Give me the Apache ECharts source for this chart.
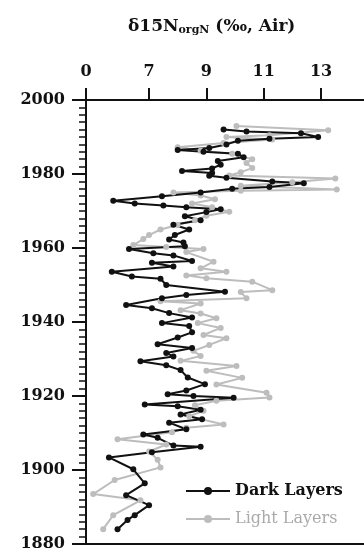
<!DOCTYPE html>
<html>
<head>
<meta charset="utf-8">
<script src="https://cdn.jsdelivr.net/npm/echarts@6/dist/echarts.min.js"></script>
<style>
  html, body { margin: 0; padding: 0; background: #fff; }
  #chart { width: 364px; height: 552px; }
</style>
</head>
<body>
<div id="chart"></div>
<script>
// [delta15N, year] pairs, top (recent) to bottom
const darkLayers = [
  [9.6, 1992], [10.4, 1991.5], [12.3, 1991], [12.9, 1990], [11.2, 1989.5], [10.1, 1989],
  [9.7, 1988], [9.1, 1987], [8.0, 1986.5], [8.9, 1986], [10.1, 1985.5], [10.3, 1984.5],
  [9.4, 1983.5], [9.5, 1982.5], [9.2, 1981.5], [8.15, 1980.8], [9.2, 1980.3], [9.1, 1979.5],
  [9.7, 1979], [11.3, 1978], [12.4, 1977.5], [11.2, 1976.5], [9.9, 1976], [8.8, 1975],
  [7.45, 1974], [5.75, 1972.8], [6.5, 1972], [7.5, 1971.5], [8.3, 1971], [9.5, 1970.5],
  [9.0, 1969.7], [8.25, 1968.6], [8.8, 1967.5], [7.85, 1966.3], [8.4, 1965], [7.9, 1963.5],
  [7.7, 1962.3], [8.2, 1961.5], [8.25, 1960.5], [6.3, 1959.7], [7.15, 1958.6], [7.85, 1958],
  [8.5, 1956.5], [7.1, 1956], [7.85, 1955], [5.7, 1953.6], [6.4, 1952.3], [7.4, 1951.7],
  [7.6, 1950], [9.65, 1948.2], [8.3, 1947.3], [7.45, 1946.4], [6.2, 1944.6], [7.1, 1943.7],
  [7.7, 1942.4], [8.5, 1941.2], [7.45, 1939.7], [8.4, 1938.9], [8.5, 1937.2], [8.0, 1935.8],
  [7.3, 1934], [8.5, 1933], [7.6, 1931.6], [7.85, 1930.7], [6.7, 1929.4], [7.6, 1928.3],
  [8.1, 1927], [8.35, 1925], [8.95, 1923.2], [8.3, 1921.5], [7.65, 1920.5], [8.55, 1920],
  [9.95, 1919.5], [6.85, 1917.7], [8.0, 1917.2], [8.8, 1916.3], [8.1, 1915], [8.85, 1913.7],
  [7.7, 1912.8], [8.3, 1911], [6.8, 1909.6], [7.3, 1908.7], [7.85, 1906.6], [8.8, 1906.3],
  [7.1, 1904.8], [5.6, 1903.4], [6.45, 1900.2], [6.85, 1896.4], [6.2, 1893.2], [7.0, 1890.5],
  [6.5, 1887.8], [6.25, 1886.5], [5.9, 1884]
];
const lightLayers = [
  [10.05, 1993], [13.25, 1991.8], [11.2, 1990.5], [9.7, 1990], [11.3, 1989.3], [9.6, 1988.4],
  [8.0, 1987.2], [8.8, 1986.3], [9.9, 1985.5], [10.6, 1984], [10.4, 1983], [10.6, 1981.6],
  [10.2, 1980.5], [9.8, 1979.6], [13.5, 1978.8], [12.0, 1977.8], [10.2, 1976.8], [13.55, 1975.8],
  [10.2, 1975.5], [7.85, 1975], [8.8, 1974.2], [9.3, 1973.2], [8.5, 1972], [9.2, 1971],
  [9.8, 1969.8], [9.0, 1968.7], [8.6, 1967.5], [8.0, 1966.2], [7.4, 1965], [7.0, 1963.5],
  [6.8, 1962.4], [6.45, 1960.8], [7.6, 1960.3], [8.9, 1959.7], [8.3, 1958.9], [9.25, 1956.3],
  [8.8, 1954.5], [9.7, 1953.6], [8.3, 1952.6], [9.0, 1951.8], [10.6, 1950.9], [11.3, 1948.6],
  [10.2, 1948.1], [10.4, 1946.4], [7.4, 1945.6], [8.8, 1945], [8.1, 1943.2], [8.8, 1942.3],
  [9.35, 1941], [8.7, 1939.7], [9.5, 1938.4], [8.9, 1936.5], [9.7, 1935.6], [9.1, 1933.8],
  [8.55, 1932.2], [8.8, 1930.8], [8.1, 1929.5], [10.05, 1928.1], [9.0, 1926.8], [10.25, 1924.9],
  [9.35, 1923.1], [11.1, 1920.9], [11.2, 1919.6], [9.35, 1918.7], [8.6, 1917.5], [8.9, 1916],
  [8.4, 1914.5], [9.6, 1912.3], [8.3, 1911.4], [7.8, 1910.2], [5.9, 1908.3], [7.6, 1906.9],
  [7.0, 1905], [7.3, 1902.8], [7.4, 1900.7], [5.8, 1897.3], [5.05, 1893.5], [6.7, 1891.8],
  [5.75, 1887.8], [5.4, 1884]
];
// broken axis: the first tick stands for 0
const xTicks = [4.8, 7, 9, 11, 13];
const xTickLabels = ['0', '7', '9', '11', '13'];

const font = 'DejaVu Serif';
const chart = echarts.init(document.getElementById('chart'));

chart.setOption({
  animation: false,
  title: {
    text: '{a|δ}{a|15}{a|N}{sub|orgN}{a| (‰, Air)}',
    left: 123,
    top: 12,
    textStyle: {
      rich: {
        a: { fontFamily: font, fontWeight: 'bold', fontSize: 17, color: '#111' },
        sub: { fontFamily: font, fontWeight: 'bold', fontSize: 11, color: '#111', padding: [8, 0, 0, 0] }
      }
    }
  },
  legend: {
    orient: 'vertical',
    left: 180,
    top: 478,
    itemWidth: 44,
    itemHeight: 10,
    itemGap: 12,
    data: [
      { name: 'Dark Layers', textStyle: { color: '#111', fontWeight: 'bold' } },
      { name: 'Light Layers', textStyle: { color: '#aaa', fontWeight: 'normal' } }
    ],
    textStyle: { fontFamily: font, fontSize: 16 }
  },
  grid: { left: 86, top: 100, right: 0, bottom: 5 },
  xAxis: [{
    type: 'value',
    position: 'top',
    min: 4.8,
    max: 14.5,
    axisLine: { show: true, lineStyle: { color: '#111', width: 2 } },
    axisTick: { show: true, length: 12, customValues: xTicks, lineStyle: { color: '#111', width: 2 } },
    axisLabel: {
      customValues: xTicks,
      formatter: v => xTickLabels[xTicks.indexOf(v)] ?? '',
      margin: 20,
      fontFamily: font, fontWeight: 'bold', fontSize: 16, color: '#111'
    },
    splitLine: { show: false }
  }, {
    type: 'value',
    position: 'bottom',
    min: 4.8,
    max: 14.5,
    axisLine: { show: true, lineStyle: { color: '#111', width: 2 } },
    axisTick: { show: false },
    axisLabel: { show: false },
    splitLine: { show: false }
  }],
  yAxis: {
    type: 'value',
    min: 1880,
    max: 2000,
    interval: 20,
    axisLine: { show: true, lineStyle: { color: '#111', width: 2 } },
    axisTick: { show: true, length: 14, lineStyle: { color: '#111', width: 2 } },
    minorTick: { show: true, splitNumber: 10, length: 7, lineStyle: { color: '#111', width: 1.5 } },
    axisLabel: {
      margin: 21, formatter: v => String(v),
      fontFamily: font, fontWeight: 'bold', fontSize: 16, color: '#111'
    },
    splitLine: { show: false }
  },
  series: [
    {
      name: 'Light Layers',
      type: 'line',
      data: lightLayers,
      symbol: 'circle',
      symbolSize: 6,
      lineStyle: { color: '#bdbdbd', width: 2 },
      itemStyle: { color: '#bdbdbd' }
    },
    {
      name: 'Dark Layers',
      type: 'line',
      data: darkLayers,
      symbol: 'circle',
      symbolSize: 6,
      lineStyle: { color: '#111', width: 2 },
      itemStyle: { color: '#111' }
    }
  ]
});
</script>
</body>
</html>
